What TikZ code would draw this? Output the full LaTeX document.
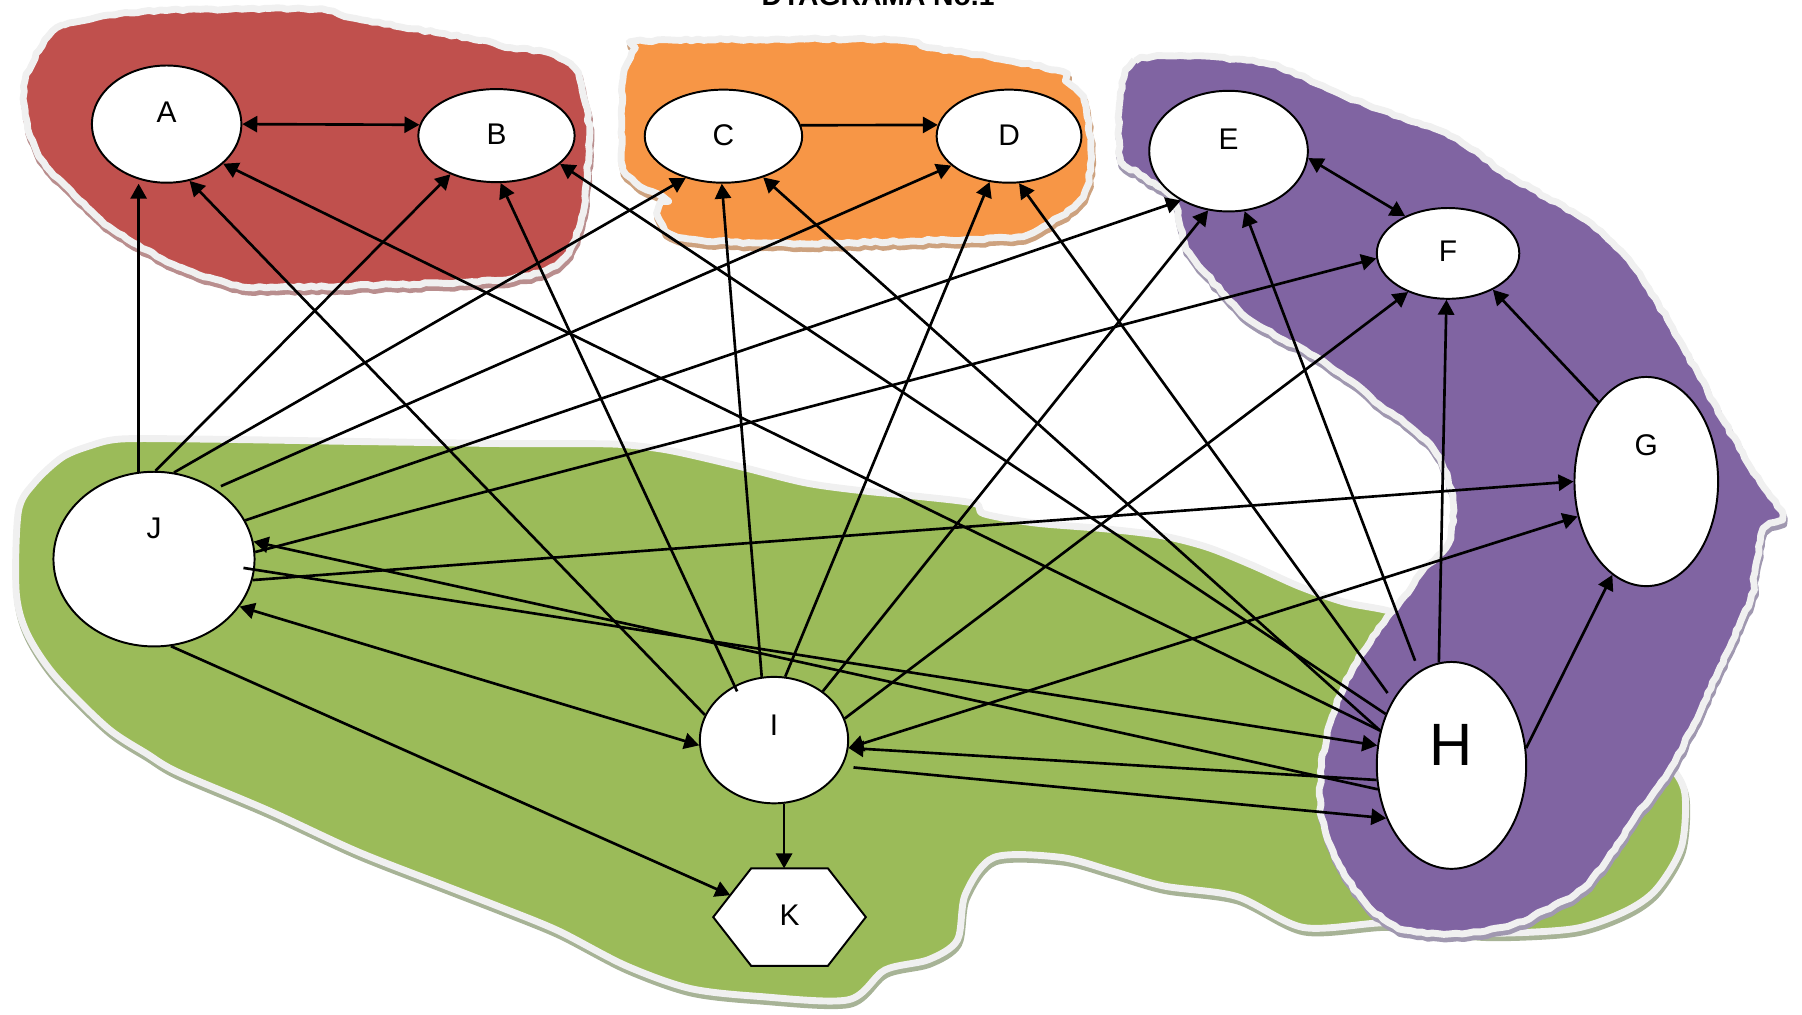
\documentclass[tikz,border=0pt]{standalone}
\usepackage{fontspec}
\setmainfont{Liberation Sans}
\usetikzlibrary{shapes.geometric, arrows.meta, calc, decorations.pathmorphing}
\definecolor{blobred}{HTML}{C0504D}
\definecolor{bloborange}{HTML}{F79646}
\definecolor{blobpurple}{HTML}{8064A2}
\definecolor{blobgreen}{HTML}{9BBB59}
\definecolor{rim}{HTML}{F0F0F0}
\definecolor{shred}{HTML}{B98E8E}
\definecolor{shorange}{HTML}{CDA27F}
\definecolor{shpurple}{HTML}{A098B0}
\definecolor{shgreen}{HTML}{A7B396}

% outlines of the four coloured areas
\def\blobRed{plot[smooth cycle, tension=0.5] coordinates {(34,44) (55,22) (124,10) (200,8) (275,8) (310,16) (378,28) (420,35) (440,41) (478,46) (500,60) (508,85) (513,116) (510,160) (506,189) (495,220) (475,235) (430,244) (330,248) (241,250) (206,248) (155,232) (103,203) (69,174) (34,136) (22,100) (22,70)}}
\def\blobOrange{plot[smooth cycle, tension=0.5] coordinates {(541,104) (542,70) (550,46) (562,36) (700,34) (783,35) (807,41) (841,46) (919,61) (928,70) (943,87) (949,128) (946,162) (934,180) (908,197) (885,206) (812,209) (696,212) (609,209) (583,203) (574,191) (574,180) (580,174) (557,162) (542,145)}}
\def\blobPurple{plot[smooth cycle, tension=0.5] coordinates {(975,81) (988,53) (1035,49) (1105,56) (1171,84) (1220,102) (1268,121) (1307,149) (1346,172) (1385,195) (1424,235) (1462,297) (1501,368) (1532,420) (1551,448) (1535,461) (1527,498) (1523,522) (1497,580) (1459,659) (1421,714) (1382,769) (1344,792) (1312,806) (1267,812) (1222,809) (1191,789) (1166,754) (1150,711) (1150,667) (1159,624) (1178,580) (1204,542) (1225,516) (1237,498) (1260,473) (1264,436) (1253,399) (1230,374) (1200,352) (1175,331) (1144,310) (1093,282) (1066,257) (1035,220) (1027,198) (1020,171) (992,152) (975,137)}}
\def\blobGreen{plot[smooth cycle, tension=0.5] coordinates {(54,398) (78,388) (105,382) (170,382) (240,383) (300,384) (370,385) (440,386) (510,386) (544,387) (583,392) (640,405) (700,420) (750,427) (800,432) (848,438) (856,447) (900,455) (960,460) (1010,466) (1050,476) (1090,492) (1130,510) (1170,524) (1210,532) (1255,548) (1300,565) (1360,595) (1420,625) (1452,664) (1466,690) (1463,737) (1441,774) (1414,793) (1370,808) (1300,812) (1250,808) (1204,803) (1134,807) (1076,780) (1013,771) (968,758) (923,746) (865,746) (840,778) (833,818) (808,835) (770,844) (738,870) (660,867) (600,860) (544,840) (486,810) (437,790) (388,771) (311,741) (233,705) (155,672) (128,656) (93,633) (47,587) (23,550) (14,514) (16,445) (30,420)}}

\begin{document}
\begin{tikzpicture}[x=0.5pt, y=-0.5pt,
  torn/.style={decorate, decoration={random steps, segment length=2.5pt, amplitude=0.45pt}},
  rimline/.style={line width=3pt, draw=rim, line join=round},
  shadowline/.style={line width=3pt, line join=round, shift={(1,4)}},
  ell/.style={ellipse, draw=black, line width=0.85pt, fill=white, inner sep=0pt},
  lbl/.style={font=\fontsize{13}{15}\selectfont},
  ahead/.tip={Triangle[length=6.5pt,width=7pt]},
  con/.style={line width=1.15pt, -ahead},
  bicon/.style={line width=1.15pt, ahead-ahead},
]
\path[use as bounding box] (0,0) rectangle (1568,883);
\clip (0,0) rectangle (1568,883);

% title
\node[font=\bfseries\fontsize{12.3}{14}\selectfont, anchor=base] (title) at (764,5) {DYAGRAMA No.1};

% coloured areas with rim and drop shadow (same seed for shadow and body)
\pgfmathsetseed{11}\fill[torn, shadowline, shred, draw=shred] \blobRed;
\pgfmathsetseed{11}\filldraw[torn, rimline, fill=blobred] \blobRed;
\pgfmathsetseed{12}\fill[torn, shadowline, shorange, draw=shorange] \blobOrange;
\pgfmathsetseed{12}\filldraw[torn, rimline, fill=bloborange] \blobOrange;
\fill[shadowline, shgreen, draw=shgreen] \blobGreen;
\filldraw[rimline, fill=blobgreen] \blobGreen;
\pgfmathsetseed{14}\fill[torn, shadowline, shpurple, draw=shpurple] \blobPurple;
\pgfmathsetseed{14}\filldraw[torn, rimline, fill=blobpurple] \blobPurple;

% nodes
\node[ell, minimum width=65pt, minimum height=51pt, label={[lbl, yshift=5pt]center:A}] (A) at (145,108) {};
\node[ell, minimum width=68pt, minimum height=40.5pt, label={[lbl, yshift=0.5pt]center:B}] (B) at (432,118) {};
\node[ell, minimum width=68.5pt, minimum height=40.5pt, label={[lbl, yshift=0.5pt]center:C}] (C) at (629.5,118.5) {};
\node[ell, minimum width=63pt, minimum height=40.5pt, label={[lbl, yshift=0.5pt]center:D}] (D) at (878,118.5) {};
\node[ell, minimum width=69pt, minimum height=52.5pt, label={[lbl, yshift=5.25pt]center:E}] (E) at (1069,131.5) {};
\node[ell, minimum width=62pt, minimum height=39.5pt, label={[lbl, yshift=0.75pt]center:F}] (F) at (1260,220.5) {};
\node[ell, minimum width=62.5pt, minimum height=91pt, label={[lbl, yshift=16pt]center:G}] (G) at (1432.5,419) {};
\node[ell, minimum width=65pt, minimum height=90pt, label={[font=\fontsize{26}{30}\selectfont, yshift=9pt]center:H}] (H) at (1263,666) {};
\node[ell, minimum width=64.5pt, minimum height=55pt, label={[lbl, yshift=6.5pt]center:I}] (I) at (673.5,644) {};
\node[ell, minimum width=87.5pt, minimum height=76pt, label={[lbl, yshift=13.5pt]center:J}] (J) at (134,486.5) {};

% hexagon K
\node[inner sep=0pt, minimum width=66pt, minimum height=42pt] (K) at (687,798) {};
\coordinate (Knw) at ([xshift=16.5pt]K.north west);
\coordinate (Kne) at ([xshift=-16.5pt]K.north east);
\coordinate (Ksw) at ([xshift=16.5pt]K.south west);
\coordinate (Kse) at ([xshift=-16.5pt]K.south east);
\draw[line width=0.85pt, fill=white, line join=miter] (K.west) -- (Knw) -- (Kne) -- (K.east) -- (Kse) -- (Ksw) -- cycle;
\node[lbl] (Ktext) at ([yshift=0.8pt]K.center) {K};
\coordinate (Kj) at ($(K.west)!0.45!(Knw)$);

% connectors
\draw[bicon] (A.-0.7) -- (B.172.5);
\draw[con] (C.8) -- (D.171.3);
\draw[bicon] (E.-5.5) -- (F.139.4);

\draw[con] (J.100) -- (J.100 |- A.south);
\draw[con] (J.89) -- (B.-140.4);
\draw[con] (J.77.8) -- (C.-132.8);
\draw[con, shorten <=2.7pt] (J.49.9) -- (D.-153.1);
\draw[con] (J.23.6) -- (E.-134.8);
\draw[con] (J.4.1) -- (F.184.4);
\draw[con] (J.-12.5) -- (G.180);
\draw[con, shorten <=-5pt] (J.-6.5) -- (H.165.8);
\draw[con] (H.198.6) -- (J.10.3);
\draw[bicon] (I.184.5) -- (J.-29.5);
\draw[con] (J.-79) -- (Kj);

\draw[con] (I.160.7) -- (A.-68.2);
\draw[con, shorten <=-2.8pt] (I.126.6) -- (B.-85.4);
\draw[con] (I.101) -- (C.-92);
\draw[con] (I.80.8) -- (D.-113.4);
\draw[con] (I.45) -- (E.-109.3);
\draw[con] (I.17.4) -- (F.-136.4);
\draw[bicon] (G.207.8) -- (I.-6.5);
\draw[con] (H.191.4) -- (I.-6.5);
\draw[con, shorten <=4.8pt] (I.-21.1) -- (H.219.7);
\draw[con] (I.-81.4) -- (I.-81.4 |- K.north);

\draw[con] (H.154.6) -- (A.-35.5);
\draw[con] (H.142.8) -- (B.-24.4);
\draw[con] (H.154.6) -- (C.-46.4);
\draw[con, shorten <=3.7pt] (H.132.6) -- (D.-78.6);
\draw[con, shorten <=4.8pt] (H.109.3) -- (E.-75.4);
\draw[con] (H.97.8) -- (F.-92.1);
\draw[con] (G.121.7) -- (F.-39.7);
\draw[con] (H.13.9) -- (G.-110.8);
\end{tikzpicture}
\end{document}
